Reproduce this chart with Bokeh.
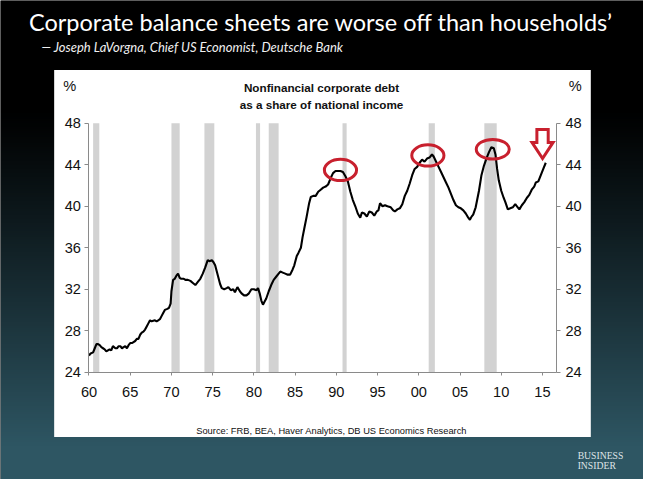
import numpy as np
from bokeh.plotting import figure
from bokeh.models import Range1d, LinearAxis, FixedTicker, Label
from bokeh.embed import file_html
from bokeh.resources import INLINE

# ---------------- data ----------------
years = [1960.0, 1960.2, 1960.5, 1960.7, 1960.9, 1961.1, 1961.3, 1961.5, 1961.7, 1961.9,
         1962.1, 1962.3, 1962.5, 1962.7, 1962.9, 1963.2, 1963.4, 1963.6, 1963.8, 1964.0,
         1964.2, 1964.4, 1964.6, 1964.8, 1965.0, 1965.2, 1965.4, 1965.6, 1965.8, 1966.0,
         1966.2, 1966.4, 1966.6, 1966.8, 1967.0, 1967.2, 1967.4, 1967.6, 1967.8, 1968.0,
         1968.2, 1968.4, 1968.6, 1968.8, 1969.0, 1969.2, 1969.5, 1969.7, 1969.9, 1970.0,
         1970.2, 1970.4, 1970.6, 1970.8, 1971.0, 1971.2, 1971.5, 1971.7, 1972.0, 1972.3,
         1972.6, 1972.9, 1973.2, 1973.5, 1973.8, 1974.1, 1974.4, 1974.6, 1974.9, 1975.1,
         1975.3, 1975.5, 1975.7, 1975.9, 1976.1, 1976.4, 1976.7, 1976.9, 1977.2, 1977.5,
         1977.7, 1978.0, 1978.3, 1978.5, 1978.8, 1979.1, 1979.4, 1979.7, 1980.0, 1980.3,
         1980.5, 1980.7, 1980.9, 1981.1, 1981.3, 1981.5, 1981.8, 1982.1, 1982.4, 1982.7,
         1983.0, 1983.2, 1983.5, 1983.8, 1984.1, 1984.4, 1984.7, 1984.9, 1985.2, 1985.4,
         1985.7, 1985.9, 1986.1, 1986.4, 1986.7, 1986.9, 1987.2, 1987.5, 1987.8, 1988.1,
         1988.4, 1988.7, 1989.0, 1989.3, 1989.6, 1989.9, 1990.2, 1990.5, 1990.8, 1991.1,
         1991.4, 1991.7, 1992.0, 1992.3, 1992.6, 1992.9, 1993.1, 1993.4, 1993.7, 1994.0,
         1994.3, 1994.6, 1994.9, 1995.1, 1995.3, 1995.6, 1995.9, 1996.2, 1996.6, 1996.9,
         1997.1, 1997.4, 1997.7, 1998.0, 1998.3, 1998.6, 1998.9, 1999.2, 1999.5, 1999.8,
         2000.1, 2000.4, 2000.7, 2001.0, 2001.3, 2001.6, 2001.8, 2002.1, 2002.4, 2002.7,
         2003.0, 2003.3, 2003.6, 2003.9, 2004.2, 2004.5, 2004.8, 2005.1, 2005.4, 2005.7,
         2006.0, 2006.2, 2006.4, 2006.6, 2006.9, 2007.1, 2007.3, 2007.6, 2007.9, 2008.2,
         2008.5, 2008.8, 2009.1, 2009.3, 2009.5, 2009.7, 2010.0, 2010.3, 2010.5, 2010.8,
         2011.1, 2011.4, 2011.7, 2012.0, 2012.2, 2012.5, 2012.8, 2013.1, 2013.4, 2013.7,
         2014.0, 2014.2, 2014.5, 2014.8, 2015.1, 2015.4]
debt = [25.6, 25.8, 25.9, 26.3, 26.7, 26.7, 26.6, 26.4, 26.3, 26.2,
        26.0, 26.1, 26.2, 26.1, 26.5, 26.3, 26.3, 26.5, 26.5, 26.3,
        26.4, 26.5, 26.3, 26.6, 26.8, 26.8, 26.9, 27.0, 27.2, 27.2,
        27.6, 27.8, 27.9, 28.1, 28.4, 28.7, 29.0, 28.9, 28.95, 29.0,
        28.9, 29.0, 29.1, 29.4, 29.7, 30.0, 30.1, 30.2, 30.6, 31.8,
        32.9, 33.0, 33.3, 33.5, 33.1, 33.0, 33.0, 32.9, 32.9, 32.8,
        32.6, 32.4, 32.7, 33.0, 33.5, 34.1, 34.8, 34.7, 34.8, 34.6,
        34.3, 33.7, 33.1, 32.5, 32.1, 32.0, 32.1, 32.2, 31.9, 32.0,
        31.7, 32.2, 31.8, 31.6, 31.4, 31.4, 31.6, 32.0, 32.0, 31.9,
        32.1, 31.6, 30.9, 30.5, 30.8, 31.1, 31.8, 32.4, 32.9, 33.2,
        33.5, 33.7, 33.6, 33.5, 33.4, 33.4, 33.9, 34.3, 35.2, 35.5,
        36.0, 37.0, 37.8, 39.0, 40.3, 40.9, 41.0, 41.0, 41.4, 41.6,
        41.8, 41.9, 42.1, 42.7, 43.2, 43.4, 43.4, 43.4, 43.3, 42.9,
        42.4, 41.4, 40.6, 40.0, 39.3, 38.9, 39.4, 39.3, 39.0, 39.5,
        39.4, 39.1, 39.5, 39.6, 40.3, 40.0, 40.1, 40.0, 39.9, 39.6,
        39.5, 39.7, 39.8, 40.2, 41.0, 41.5, 42.2, 43.0, 43.6, 43.8,
        44.2, 44.5, 44.3, 44.6, 44.7, 45.0, 44.8, 44.3, 43.8, 43.3,
        42.8, 42.3, 41.8, 41.2, 40.6, 40.1, 39.9, 39.8, 39.6, 39.3,
        38.9, 38.7, 39.0, 39.2, 39.9, 40.7, 41.5, 43.0, 43.9, 44.6,
        45.2, 45.7, 45.6, 45.0, 43.6, 42.5, 41.5, 40.8, 40.4, 39.7,
        39.8, 39.9, 40.2, 39.9, 39.7, 40.1, 40.4, 40.8, 41.1, 41.6,
        41.9, 42.3, 42.4, 43.0, 43.6, 44.2]

rec_start = [1960.5, 1970.0, 1974.0, 1980.25, 1981.8, 1990.75, 2001.2, 2007.95]
rec_end = [1961.25, 1971.0, 1975.2, 1980.75, 1983.0, 1991.25, 2001.95, 2009.45]

peak_years = [1990.5, 2001.1, 2008.97]
peak_vals = [43.5, 44.9, 45.5]
peak_w = [3.9, 3.9, 4.0]
peak_h = [2.05, 2.05, 1.9]

y_ticks = [24, 28, 32, 36, 40, 44, 48]
x_ticks = [1960, 1965, 1970, 1975, 1980, 1985, 1990, 1995, 2000, 2005, 2010, 2015]
x_tick_labels = ["60", "65", "70", "75", "80", "85", "90", "95", "00", "05", "10", "15"]

title = "Corporate balance sheets are worse off than households\u2019"
subtitle = "\u2014 Joseph LaVorgna, Chief US Economist, Deutsche Bank"
chart_title = ["Nonfinancial corporate debt", "as a share of national income"]
source = "Source: FRB, BEA,  Haver  Analytics, DB US Economics Research"

# ---------------- geometry (reference pixel space 659x495 mapped onto the figure) ----------------
W, H = 643, 479
RW, RH = 659, 495
KX = 8.45      # reference px per year
KY = 10.71     # reference px per percentage point
X1960 = 90.7   # reference px of 1960
Y24 = 384.0    # reference px (from top) of 24%
XMAX = 2016.7

x_start = 1960 - X1960 / KX
x_end = x_start + RW / KX
y_end = 24 + Y24 / KY
y_start = y_end - RH / KY


def X(px):
    return x_start + px / KX


def Y(py):
    return y_end - py / KY


p = figure(width=W, height=H, x_range=Range1d(x_start, x_end), y_range=Range1d(y_start, y_end),
           output_backend="svg", toolbar_location=None, min_border=0,
           x_axis_location=None, y_axis_location=None,
           background_fill_color="black", border_fill_color="black", outline_line_color=None)
p.xgrid.grid_line_color = None
p.ygrid.grid_line_color = None

# background gradient
NR = 240
rows = np.arange(NR)
page_y = RH - (rows + 0.5) * RH / NR
t = np.clip((page_y - 110) / 350.0, 0, 1) ** 1.1
img = np.zeros((NR, 2), dtype=np.uint32)
v = img.view(dtype=np.uint8).reshape((NR, 2, 4))
v[:, :, 0] = (46 * t)[:, None].astype(np.uint8)
v[:, :, 1] = (86 * t)[:, None].astype(np.uint8)
v[:, :, 2] = (99 * t)[:, None].astype(np.uint8)
v[:, :, 3] = 255
p.image_rgba(image=[img], x=x_start, y=y_start, dw=x_end - x_start, dh=y_end - y_start)

# white panel
p.quad(left=X(55), right=X(605), top=Y(71.7), bottom=Y(451), fill_color="white", line_color=None)

# recession bars
p.quad(left=rec_start, right=rec_end, bottom=y_ticks[0], top=y_ticks[-1],
       fill_color="#d2d2d2", line_color=None)

# series
p.line(years, debt, line_color="black", line_width=2.1)

# highlights
p.ellipse(x=peak_years, y=peak_vals, width=peak_w, height=peak_h,
          fill_color=None, line_color="#c8202e", line_width=3)

# arrow pointing at latest value
tip_x = years[-1] - 3.3 / KX
tip_y = debt[-1] + 4.4 / KY
arrow_px = [(0, 0), (-10.8, -16.6), (-5.8, -16.6), (-5.8, -30), (5.8, -30), (5.8, -16.6), (10.8, -16.6)]
p.patch([tip_x + dx / KX for dx, dy in arrow_px], [tip_y - dy / KY for dx, dy in arrow_px],
        fill_color="white", line_color="#c8202e", line_width=3, line_join="miter")

# axes
axis_style = dict(axis_line_color="#8a8a8a", major_tick_line_color="#8a8a8a",
                  minor_tick_line_color=None, major_tick_in=0,
                  major_label_text_font="Liberation Sans", major_label_text_font_size="14.6px",
                  major_label_text_color="#111111")
yl = LinearAxis(fixed_location=x_ticks[0], ticker=FixedTicker(ticks=y_ticks),
                bounds=(y_ticks[0], y_ticks[-1]), major_tick_out=4, major_label_standoff=4, **axis_style)
yr = LinearAxis(fixed_location=XMAX, ticker=FixedTicker(ticks=y_ticks),
                bounds=(y_ticks[0], y_ticks[-1]), major_tick_out=4, major_label_standoff=5, **axis_style)
xb = LinearAxis(fixed_location=y_ticks[0], ticker=FixedTicker(ticks=x_ticks),
                bounds=(x_ticks[0], XMAX), major_tick_out=3, major_label_standoff=12,
                major_label_overrides={k: s for k, s in zip(x_ticks, x_tick_labels)}, **axis_style)
p.add_layout(yl, "left")
p.add_layout(yr, "right")
p.add_layout(xb, "below")


def lab(px, py, text, **kw):
    d = dict(text_baseline="middle", text_align="left")
    d.update(kw)
    p.add_layout(Label(x=X(px), y=Y(py), text=text, **d))


lab(328.5, 22, title, text_align="center", text_font="Lato", text_font_size="23.5px", text_color="white")
lab(42, 48, subtitle, text_font="Lato", text_font_style="italic", text_font_size="13px", text_color="#f0f0f0")
lab(329, 90, chart_title[0], text_align="center", text_font="Liberation Sans",
    text_font_style="bold", text_font_size="11.7px", text_color="#111111")
lab(329, 107, chart_title[1], text_align="center", text_font="Liberation Sans",
    text_font_style="bold", text_font_size="11.7px", text_color="#111111")
lab(71, 88, "%", text_align="center", text_font="Liberation Sans", text_font_size="14.6px", text_color="#111111")
lab(589, 88, "%", text_align="center", text_font="Liberation Sans", text_font_size="14.6px", text_color="#111111")
lab(342, 445, source, text_align="center", text_font="Liberation Sans",
    text_font_size="9.3px", text_color="#111111")
lab(591.5, 470.5, "BUSINESS", text_font="Liberation Serif", text_font_size="9.7px", text_color="#dfe4e7")
lab(591.5, 481, "INSIDER", text_font="Liberation Serif", text_font_size="9.7px", text_color="#dfe4e7")

open("out.html", "w").write(file_html(p, INLINE))
